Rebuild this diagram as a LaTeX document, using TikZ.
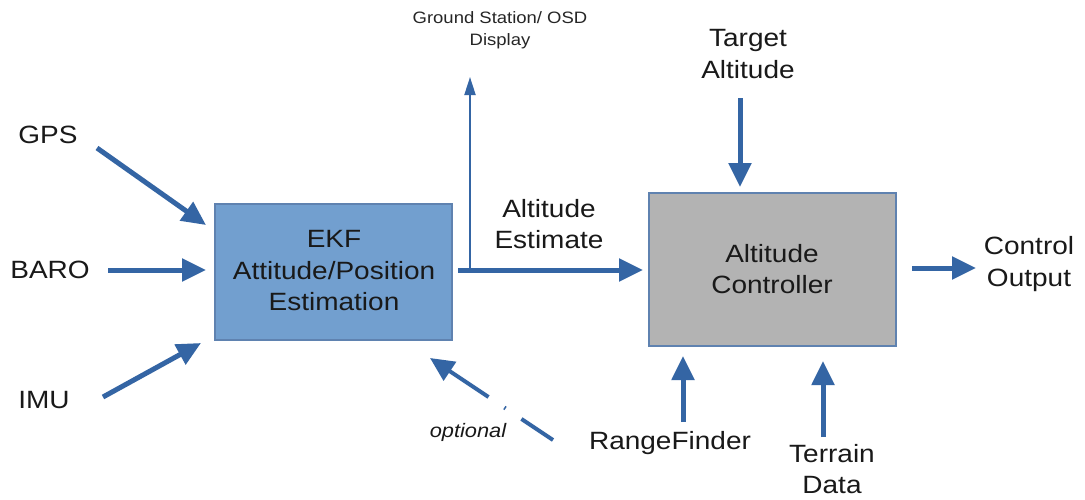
\documentclass[tikz,border=0pt]{standalone}
\usepackage{fontspec}
\setmainfont{Liberation Sans}[FakeStretch=1.12]
\usetikzlibrary{arrows.meta}
\definecolor{arrowblue}{HTML}{3465A4}
\definecolor{boxblue}{HTML}{729FCF}
\definecolor{boxgray}{HTML}{B3B3B3}
\definecolor{boxline}{HTML}{5F82B0}
\begin{document}
\begin{tikzpicture}[x=1pt,y=-1pt,
  big/.style={font=\fontsize{25}{31.5}\selectfont, align=center, inner sep=0pt, text=black!90},
  blockbox/.style={draw=boxline, line width=1.2pt, inner sep=0pt},
  fatarrow/.style={draw=arrowblue, line width=5pt, -{Triangle[length=24pt,width=22pt]}},
  thinarrow/.style={draw=arrowblue, line width=2pt, -{Triangle[length=18pt,width=11pt]}}
]
\useasboundingbox[fill=white] (0,0) rectangle (1085,499);

% blocks
\node[blockbox, fill=boxblue, minimum width=237pt, minimum height=136pt] (ekf) at (333.5,272) {};
\node[big] (ekftext) at (334,271) {EKF\\Attitude/Position\\Estimation};
\node[blockbox, fill=boxgray, minimum width=247pt, minimum height=153pt] (ctrl) at (772.5,269.5) {};
\node[big] (ctrltext) at (772,269) {Altitude\\Controller};

% labels
\node[big] (gps) at (48,135) {GPS};
\node[big] (baro) at (50,270) {BARO};
\node[big] (imu) at (44,400) {IMU};
\node[big] (altest) at (549,224) {Altitude\\Estimate};
\node[big] (target) at (748,54) {Target\\Altitude};
\node[big] (ctrlout) at (1029,264) {Control\\Output};
\node[big] (range) at (670,443) {RangeFinder};
\node[big] (terrain) at (832,469) {Terrain\\Data};
\node[font=\fontsize{16.5}{22}\selectfont, align=center, inner sep=0pt, text=black!85] (gs) at (500,30) {Ground Station/ OSD\\Display};
\node[font=\itshape\fontsize{19.5}{22}\selectfont, inner sep=0pt, text=black!90] (opt) at (468,432) {optional};

% connector end points
\coordinate (gpsS) at (97,148);
\coordinate (gpsE) at (206,225);
\coordinate (baroS) at (108,270);
\coordinate (baroE) at (206,270);
\coordinate (imuS) at (103,397);
\coordinate (imuE) at (201,343);
\coordinate (estS) at (458,270);
\coordinate (estE) at (643,270);
\coordinate (gsS) at (470,270);
\coordinate (gsE) at (470,77);
\coordinate (optS) at (553,440);
\coordinate (optE) at (430,358);
\coordinate (tgtS) at (740,98);
\coordinate (tgtE) at (740,187);
\coordinate (rngS) at (683,422);
\coordinate (rngE) at (683,356);
\coordinate (terS) at (823,437);
\coordinate (terE) at (823,361);
\coordinate (outS) at (912,268);
\coordinate (outE) at (976,268);

% connectors
\draw[fatarrow] (gpsS) -- (gpsE);
\draw[fatarrow] (baroS) -- (baroE);
\draw[fatarrow] (imuS) -- (imuE);
\draw[thinarrow] (gsS) -- (gsE);
\draw[fatarrow] (estS) -- (estE);
\draw[fatarrow, line width=4pt, dash pattern=on 38pt off 19pt on 1.5pt off 19pt on 300pt] (optS) -- (optE);
\draw[fatarrow] (tgtS) -- (tgtE);
\draw[fatarrow] (rngS) -- (rngE);
\draw[fatarrow] (terS) -- (terE);
\draw[fatarrow] (outS) -- (outE);
\end{tikzpicture}
\end{document}
